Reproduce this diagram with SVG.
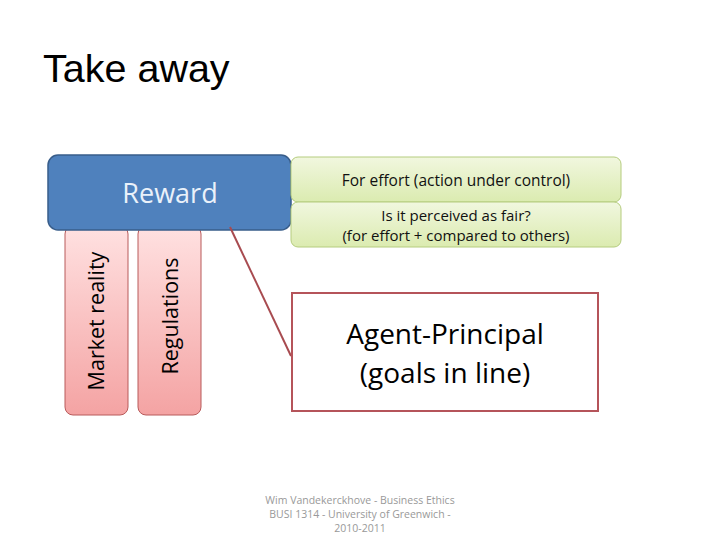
<svg xmlns="http://www.w3.org/2000/svg" width="720" height="540" viewBox="0 0 720 540">
<defs>
<linearGradient id="pink" x1="0" y1="0" x2="0" y2="1">
<stop offset="0" stop-color="#FFE1E1"/><stop offset="1" stop-color="#F4A3A3"/>
</linearGradient>
<linearGradient id="green" x1="0" y1="0" x2="0" y2="1">
<stop offset="0" stop-color="#F1F7DF"/><stop offset="1" stop-color="#DBEBB0"/>
</linearGradient>
<style>
text{font-family:"Open Sans","Liberation Sans",sans-serif}
.pink{fill:url(#pink);stroke:#B85A5A;stroke-width:1}
.green{fill:url(#green);stroke:#B5CC7E;stroke-width:1}
.vt{font-size:21.5px;fill:#000;text-anchor:middle}
.gt{font-size:15.5px;fill:#111;text-anchor:middle}
</style>
</defs>
<rect width="720" height="540" fill="#fff"/>
<text x="43" y="82" style="font-family:'Liberation Sans',sans-serif;font-size:39.5px;fill:#000">Take away</text>
<g id="market">
<rect class="pink" x="65" y="226" width="63" height="189" rx="8"/>
<text class="vt" transform="translate(104,321) rotate(-90)">Market reality</text>
</g>
<g id="regulations">
<rect class="pink" x="138" y="226" width="63" height="189" rx="8"/>
<text class="vt" transform="translate(178,316) rotate(-90)">Regulations</text>
</g>
<g id="reward">
<rect x="48" y="155" width="243" height="75" rx="10" fill="#4F81BD" stroke="#385D8A" stroke-width="1.5"/>
<text x="170" y="203" style="font-size:27px;fill:#EAF1FA;text-anchor:middle">Reward</text>
</g>
<g id="effort">
<rect class="green" x="291" y="157" width="330" height="45" rx="7"/>
<text class="gt" x="456" y="186">For effort (action under control)</text>
</g>
<g id="fair">
<rect class="green" x="291" y="202" width="330" height="45" rx="7"/>
<text class="gt" x="456" y="221" style="font-size:15px">Is it perceived as fair?</text>
<text class="gt" x="456" y="241" style="font-size:15px">(for effort + compared to others)</text>
</g>
<g id="connectors">
<line x1="230" y1="227" x2="291" y2="356" stroke="#A84B50" stroke-width="2"/>
</g>
<g id="agent">
<rect x="292" y="293" width="306" height="118" fill="#fff" stroke="#B5545A" stroke-width="2"/>
<text x="445" y="344" style="font-size:28px;fill:#000;text-anchor:middle">Agent-Principal</text>
<text x="445" y="383" style="font-size:28px;fill:#000;text-anchor:middle">(goals in line)</text>
</g>
<g id="footer" style="font-size:10.5px;fill:#999">
<text x="360" y="504" text-anchor="middle">Wim Vandekerckhove - Business Ethics</text>
<text x="360" y="518" text-anchor="middle">BUSI 1314 - University of Greenwich -</text>
<text x="360" y="532" text-anchor="middle">2010-2011</text>
</g>
</svg>
